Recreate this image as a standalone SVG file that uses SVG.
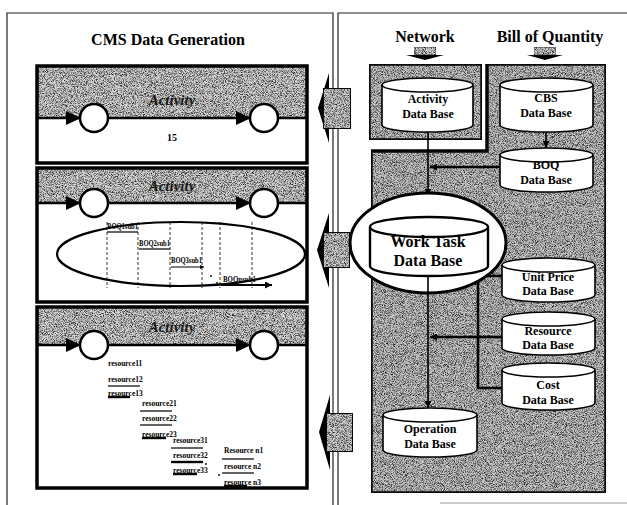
<svg xmlns="http://www.w3.org/2000/svg" width="627" height="505" viewBox="0 0 627 505">
<defs>
<filter id="nz" x="0" y="0" width="100%" height="100%" color-interpolation-filters="sRGB">
<feTurbulence type="fractalNoise" baseFrequency="1.1" numOctaves="2" seed="7" result="t"/>
<feColorMatrix in="t" type="matrix" values="0 0 0 0 0.1  0 0 0 0 0.1  0 0 0 0 0.1  2.6 0 0 0 -1.05" result="d"/>
<feComposite in="d" in2="SourceGraphic" operator="atop"/>
</filter>
<marker id="ah" viewBox="0 0 10 10" refX="10" refY="5" markerWidth="7" markerHeight="7" markerUnits="userSpaceOnUse" orient="auto"><path d="M0,0 L10,5 L0,10 z" fill="#000"/></marker>
<marker id="sh" viewBox="0 0 10 10" refX="10" refY="5" markerWidth="4" markerHeight="4" markerUnits="userSpaceOnUse" orient="auto"><path d="M0,0 L10,5 L0,10 z" fill="#000"/></marker>
<style>
.t{font-family:"Liberation Serif",serif;font-weight:bold;fill:#000}
.ttl{font-size:16px;text-anchor:middle}
.db{font-size:12px;text-anchor:middle}
.act{font-family:"Liberation Serif",serif;font-weight:bold;font-style:italic;font-size:15px;fill:#1a1a1a;text-anchor:middle}
.sm{font-size:8.5px}
.rs{font-size:7.5px}
.frame{fill:none;stroke:#222;stroke-width:1.2}
.box{stroke:#000;stroke-width:3.5}
.cyl{fill:#fff;stroke:#000;stroke-width:1.6}
.bnd{stroke:#000;stroke-width:2.5}
.node{fill:#fff;stroke:#000;stroke-width:2.5}
.cn{fill:none;stroke:#000;stroke-width:1.6}
.cnt{fill:none;stroke:#000;stroke-width:2.6}
.ul{stroke:#000;stroke-width:1.2}
.ulk{stroke:#000;stroke-width:2.4}
.dash{stroke:#000;stroke-width:0.8;stroke-dasharray:3 2}
.gl{fill:#d6d6d6;filter:url(#nz)}
.gr{fill:#c8c8c8;filter:url(#nz)}
.blk{fill:#d0d0d0;stroke:#000;stroke-width:2;filter:url(#nz)}
</style>
</defs>
<rect width="627" height="505" fill="#fff"/>

<g id="frames">
<path class="frame" d="M7,505 V13 H333 V505"/>
<path class="frame" d="M338,505 V13 H627"/>
<line x1="440" y1="503" x2="627" y2="503" stroke="#999" stroke-width="1"/>
<text class="t ttl" x="168" y="45">CMS Data Generation</text>
<text class="t ttl" x="425" y="42">Network</text>
<text class="t ttl" x="550" y="42">Bill of Quantity</text>
</g>

<g id="headArrows">
<rect class="gl" x="414" y="47" width="22" height="8" stroke="#333" stroke-width="0.8"/>
<polygon points="406,55 444,55 425,60" fill="#000"/>
<rect class="gl" x="534" y="47" width="22" height="8" stroke="#333" stroke-width="0.8"/>
<polygon points="527,55 563,55 545,60" fill="#000"/>
</g>

<g id="box1">
<rect class="gl" x="37" y="66" width="270" height="52"/>
<rect x="37" y="118" width="270" height="45" fill="#fff"/>
<rect x="37" y="66" width="270" height="97" fill="none" class="box"/>
<line class="bnd" x1="37" y1="118" x2="307" y2="118"/>
<text class="act" x="172" y="105">Activity</text>
<polygon points="66,111 81,118 66,125" fill="#000"/>
<polygon points="236,111 251,118 236,125" fill="#000"/>
<circle class="node" cx="94" cy="118" r="14"/>
<circle class="node" cx="264" cy="118" r="14"/>
<text class="t" x="172" y="141" font-size="10" text-anchor="middle">15</text>
</g>

<g id="box2">
<rect class="gl" x="37" y="168" width="270" height="35"/>
<rect x="37" y="203" width="270" height="99" fill="#fff"/>
<line class="dash" x1="107" y1="222" x2="107" y2="288"/>
<line class="dash" x1="138" y1="222" x2="138" y2="288"/>
<line class="dash" x1="170" y1="222" x2="170" y2="288"/>
<line class="dash" x1="202" y1="222" x2="202" y2="288"/>
<line class="dash" x1="220" y1="222" x2="220" y2="288"/>
<line class="dash" x1="252" y1="222" x2="252" y2="288"/>
<ellipse cx="181" cy="254" rx="124" ry="32" fill="none" stroke="#000" stroke-width="2.2"/>
<rect x="37" y="168" width="270" height="134" fill="none" class="box"/>
<line class="bnd" x1="37" y1="203" x2="307" y2="203"/>
<text class="act" x="172" y="191">Activity</text>
<polygon points="66,196 81,203 66,210" fill="#000"/>
<polygon points="236,196 251,203 236,210" fill="#000"/>
<circle class="node" cx="94" cy="203" r="14"/>
<circle class="node" cx="264" cy="203" r="14"/>
<text class="t sm" x="107" y="229" textLength="31" lengthAdjust="spacingAndGlyphs">BOQ1sub1</text>
<line class="ul" x1="107" y1="232" x2="138" y2="232"/>
<text class="t sm" x="139" y="246" textLength="31" lengthAdjust="spacingAndGlyphs">BOQ2sub1</text>
<line class="ul" x1="139" y1="249" x2="170" y2="249"/>
<text class="t sm" x="171" y="263" textLength="31" lengthAdjust="spacingAndGlyphs">BOQ3sub1</text>
<line class="ul" x1="171" y1="267" x2="204" y2="267" marker-end="url(#sh)"/>
<circle cx="211" cy="276" r="0.9" fill="#000"/>
<circle cx="217" cy="283" r="0.9" fill="#000"/>
<text class="t sm" x="223" y="282" textLength="33" lengthAdjust="spacingAndGlyphs">BOQnsub1</text>
<line x1="221" y1="285" x2="272" y2="285" stroke="#000" stroke-width="2" marker-end="url(#ah)"/>
</g>

<g id="box3">
<rect class="gl" x="37" y="307" width="270" height="38"/>
<rect x="37" y="345" width="270" height="143" fill="#fff"/>
<rect x="37" y="307" width="270" height="181" fill="none" class="box"/>
<line class="bnd" x1="37" y1="345" x2="307" y2="345"/>
<text class="act" x="172" y="332">Activity</text>
<polygon points="66,338 81,345 66,352" fill="#000"/>
<polygon points="236,338 251,345 236,352" fill="#000"/>
<circle class="node" cx="94" cy="345" r="14"/>
<circle class="node" cx="264" cy="345" r="14"/>
<text class="t rs" x="108" y="366">resource11</text>
<text class="t rs" x="108" y="382">resource12</text>
<line class="ul" x1="108" y1="386" x2="140" y2="386"/>
<text class="t rs" x="108" y="396">resource13</text>
<line class="ulk" x1="108" y1="397" x2="130" y2="397"/>
<text class="t rs" x="142" y="406">resource21</text>
<line class="ul" x1="140" y1="411" x2="172" y2="411"/>
<text class="t rs" x="142" y="421">resource22</text>
<line class="ul" x1="140" y1="425" x2="172" y2="425"/>
<text class="t rs" x="142" y="437">resource23</text>
<line class="ulk" x1="142" y1="438" x2="166" y2="438"/>
<text class="t rs" x="173" y="443">resource31</text>
<line class="ul" x1="171" y1="448" x2="203" y2="448"/>
<text class="t rs" x="173" y="458">resource32</text>
<line class="ulk" x1="171" y1="462" x2="203" y2="462"/>
<circle cx="206" cy="464" r="0.9" fill="#000"/>
<text class="t rs" x="173" y="473">resource33</text>
<line class="ulk" x1="173" y1="474" x2="197" y2="474"/>
<text class="t rs" x="224" y="453">Resource n1</text>
<line class="ul" x1="222" y1="459" x2="254" y2="459"/>
<text class="t rs" x="224" y="469">resource n2</text>
<line class="ul" x1="222" y1="473" x2="254" y2="473"/>
<circle cx="219" cy="475" r="0.9" fill="#000"/>
<text class="t rs" x="224" y="485">resource n3</text>
<line class="ulk" x1="224" y1="486" x2="247" y2="486"/>
</g>

<g id="blockArrows">
<polygon points="329,73 329,143 318,108" fill="#000"/>
<rect class="blk" x="323" y="88" width="28" height="41"/>
<polygon points="329,213 329,288 317,250" fill="#000"/>
<rect class="blk" x="323" y="232" width="27" height="36"/>
<polygon points="330,395 330,470 319,432" fill="#000"/>
<rect class="blk" x="326" y="413" width="27" height="39"/>
</g>

<g id="networkBox">
<rect x="369" y="64" width="113" height="76" class="gr box"/>
</g>
<g id="boqRegion">
<polygon points="487,64 606,64 606,493 371,493 371,151 487,151" class="gr box"/>
</g>

<g id="connectors">
<line class="cn" x1="428" y1="132" x2="428" y2="196" marker-end="url(#ah)"/>
<line class="cnt" x1="500" y1="167" x2="430" y2="167" marker-end="url(#ah)"/>
<line class="cn" x1="546" y1="132" x2="546" y2="148" marker-end="url(#ah)"/>
<line class="cn" x1="428" y1="275" x2="428" y2="408" marker-end="url(#ah)"/>
<path class="cnt" d="M503,276 H478 V388 H503"/>
<line class="cnt" x1="503" y1="337" x2="478" y2="337"/>
<line class="cnt" x1="478" y1="337" x2="430" y2="337" marker-end="url(#ah)"/>
</g>

<g id="activityDB">
<path class="cyl" d="M382,85 V125 A45.5,7 0 0 0 473,125 V85"/>
<ellipse class="cyl" cx="427.5" cy="85" rx="45.5" ry="7"/>
<text class="t db" x="428" y="103">Activity</text>
<text class="t db" x="428" y="118">Data Base</text>
</g>
<g id="cbsDB">
<path class="cyl" d="M500,85 V125 A46.5,7 0 0 0 593,125 V85"/>
<ellipse class="cyl" cx="546.5" cy="85" rx="46.5" ry="7"/>
<text class="t db" x="546" y="102">CBS</text>
<text class="t db" x="546" y="117">Data Base</text>
</g>
<g id="boqDB">
<path class="cyl" d="M500,155 V185 A46.5,7 0 0 0 593,185 V155"/>
<ellipse class="cyl" cx="546.5" cy="155" rx="46.5" ry="7"/>
<text class="t db" x="546" y="169">BOQ</text>
<text class="t db" x="546" y="184">Data Base</text>
</g>
<g id="workTaskDB">
<ellipse cx="428" cy="243" rx="78" ry="50" fill="#fff" stroke="#000" stroke-width="3"/>
<path d="M370,227 V266 A59,10 0 0 0 488,266 V227" fill="#fff" stroke="#000" stroke-width="2.4"/>
<ellipse cx="429" cy="227" rx="59" ry="10" fill="#fff" stroke="#000" stroke-width="2.4"/>
<line class="cn" x1="428" y1="276" x2="428" y2="293"/>
<text class="t" x="428" y="247" font-size="16" text-anchor="middle">Work Task</text>
<text class="t" x="428" y="266" font-size="16" text-anchor="middle">Data Base</text>
</g>
<g id="unitPriceDB">
<path class="cyl" d="M502,265 V295 A46.5,7 0 0 0 595,295 V265"/>
<ellipse class="cyl" cx="548.5" cy="265" rx="46.5" ry="7"/>
<text class="t db" x="548" y="281">Unit Price</text>
<text class="t db" x="548" y="295">Data Base</text>
</g>
<g id="resourceDB">
<path class="cyl" d="M502,319 V348 A46.5,7 0 0 0 595,348 V319"/>
<ellipse class="cyl" cx="548.5" cy="319" rx="46.5" ry="7"/>
<text class="t db" x="548" y="335">Resource</text>
<text class="t db" x="548" y="349">Data Base</text>
</g>
<g id="costDB">
<path class="cyl" d="M502,370 V403 A46.5,7 0 0 0 595,403 V370"/>
<ellipse class="cyl" cx="548.5" cy="370" rx="46.5" ry="7"/>
<text class="t db" x="548" y="389">Cost</text>
<text class="t db" x="548" y="404">Data Base</text>
</g>
<g id="operationDB">
<path class="cyl" d="M383,415 V450 A47,7 0 0 0 477,450 V415"/>
<ellipse class="cyl" cx="430" cy="415" rx="47" ry="7"/>
<text class="t db" x="430" y="433">Operation</text>
<text class="t db" x="430" y="448">Data Base</text>
</g>
</svg>
